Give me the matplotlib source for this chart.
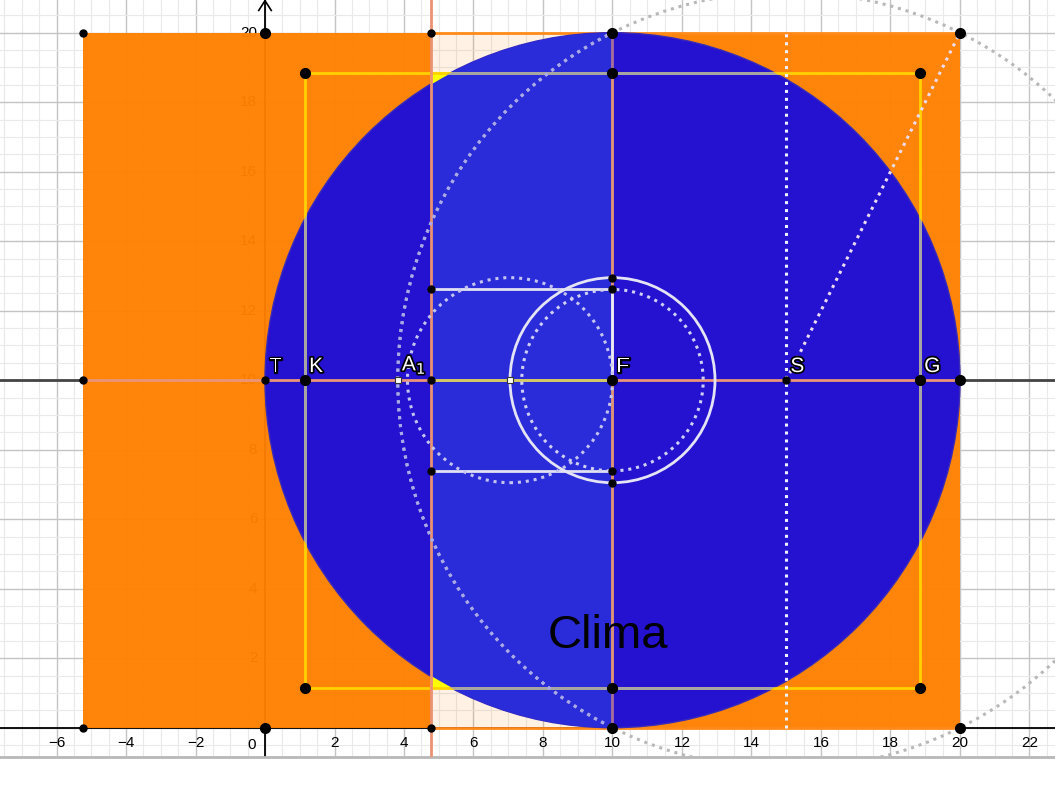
import numpy as np
import matplotlib.pyplot as plt
import matplotlib.patches as patches
import matplotlib.patheffects as pe

plt.rcParams['font.family'] = ['Liberation Sans', 'DejaVu Sans']

# construction values
side = 20            # outer square 0..20
cx, cy = 10, 10      # centre of the big circle
radius = 10
band_left = -5.24    # left edge of the orange band
strip_x = 4.78       # pale strip between strip_x and cx
margin = 1.15        # inset of the yellow square
rect_half = 2.62     # half height of the small white rectangle
ring_r = 2.95        # solid ring around F and dotted circle next to it
dot_cx = 7.05
inner_r = 2.61
s_x = 15
big_r = np.sqrt(125)
big_end = (20, 20)

label_names = ['T', 'K', 'A$_1$', 'F', 'S', 'G']
label_x = [0, 1.15, 3.82, 10, 15, 18.85]

big_pts_x = [0, 10, 20, 0, 10, 20, 1.15, 10, 18.85, 1.15, 10, 18.85, 1.15, 10, 18.85, 20]
big_pts_y = [0, 0, 0, 20, 20, 20, 18.85, 18.85, 18.85, 1.15, 1.15, 1.15, 10, 10, 10, 10]
small_pts_x = [-5.24, 4.78, -5.24, 4.78, -5.24, 0, 4.78, 15, 4.78, 10, 4.78, 10, 10, 10]
small_pts_y = [0, 0, 20, 20, 10, 10, 10, 10, 12.62, 12.62, 7.38, 7.38, 12.95, 7.05]
hollow_x = [3.82, 7.05]
hollow_y = [10, 10]

xtick_vals = [-6, -4, -2, 2, 4, 6, 8, 10, 12, 14, 16, 18, 20, 22]
ytick_vals = [2, 4, 6, 8, 10, 12, 14, 16, 18, 20]

fig = plt.figure(figsize=(10.55, 7.87), dpi=100)
ax = fig.add_axes([0, 30 / 787, 1, 757 / 787])
ax.set_xlim(-7.626, 22.734)
ax.set_ylim(-0.843, 20.94)

# grid
ax.set_xticks(np.arange(-6, 23, 2))
ax.set_yticks(np.arange(0, 21, 2))
ax.set_xticks(np.arange(-7.5, 23, 0.5), minor=True)
ax.set_yticks(np.arange(-0.5, 21, 0.5), minor=True)
ax.grid(which='major', color='#c4c4c4', lw=1)
ax.grid(which='minor', color='#e9e9e9', lw=0.8)
ax.set_axisbelow(True)
ax.tick_params(which='both', length=0, labelbottom=False, labelleft=False)
for s in ['top', 'left', 'right']:
    ax.spines[s].set_visible(False)
ax.spines['bottom'].set_color('#b8b8b8')
ax.spines['bottom'].set_linewidth(2)

# axes and the y = 10 line (under the fills)
ax.axhline(0, color='black', lw=1.3, zorder=1.5)
ax.axvline(0, color='black', lw=1.3, zorder=1.5)
ax.axhline(cy, color='#444444', lw=2, zorder=1.5)
top = ax.get_ylim()[1]
ax.plot([-0.18, 0, 0.18], [top - 0.3, top - 0.02, top - 0.3], color='black', lw=1.2, zorder=1.5)

for v in xtick_vals:
    ax.text(v, -0.45, str(v).replace('-', '\u2212'), ha='center', va='center', fontsize=11, zorder=1.5)
ax.text(-0.38, -0.5, '0', ha='center', va='center', fontsize=11, zorder=1.5)
for v in ytick_vals:
    ax.text(-0.22, v, str(v), ha='right', va='center', fontsize=11, zorder=1.8)

# orange band with the pale strip
ax.add_patch(patches.Rectangle((band_left, 0), strip_x - band_left, side,
                               fc='#ff8000', ec='none', alpha=0.96, zorder=2))
ax.add_patch(patches.Rectangle((cx, 0), side - cx, side,
                               fc='#ff8000', ec='none', alpha=0.96, zorder=2))
ax.add_patch(patches.Rectangle((strip_x, 0), cx - strip_x, side,
                               fc='#ff8000', ec='none', alpha=0.1, zorder=2))
ax.plot([strip_x, side], [0, 0], color='#ff8a1a', lw=2, zorder=2.6)
ax.plot([strip_x, side], [side, side], color='#ff8a1a', lw=2, zorder=2.6)

# blue circle, a little lighter inside the strip
disc = patches.Circle((cx, cy), radius, fc='#2412d0', ec='#3a2ab8', lw=1, zorder=3)
ax.add_patch(disc)
light = patches.Rectangle((strip_x, 0), cx - strip_x, side, fc='#2a2bd9', ec='none', zorder=3.05)
ax.add_patch(light)
light.set_clip_path(disc)
ax.plot([cx, cx], [0, side], color='#a87098', lw=2, zorder=3.15)

# little yellow corners between strip, yellow square and circle
for sgn in [1, -1]:
    y_edge = cy + sgn * (cy - margin)
    x_hit = cx - np.sqrt(radius ** 2 - (y_edge - cy) ** 2)
    a0 = np.arctan2(y_edge - cy, x_hit - cx)
    y_hit = cy + sgn * np.sqrt(radius ** 2 - (strip_x - cx) ** 2)
    a1 = np.arctan2(y_hit - cy, strip_x - cx)
    aa = np.linspace(a0, a1, 20)
    xs = np.concatenate([[strip_x], cx + radius * np.cos(aa)])
    ys = np.concatenate([[y_edge], cy + radius * np.sin(aa)])
    ax.fill(xs, ys, color='#ffff00', zorder=3.2)

# yellow square, grey where it runs inside the circle
ax.add_patch(patches.Rectangle((margin, margin), side - 2 * margin, side - 2 * margin,
                               fill=False, ec='#ffd200', lw=2, zorder=4))
grey_sq = patches.Rectangle((margin, margin), side - 2 * margin, side - 2 * margin,
                            fill=False, ec='#a4a4ac', lw=2, zorder=4.1)
ax.add_patch(grey_sq)
grey_sq.set_clip_path(disc)

# construction lines
ax.axvline(strip_x, color='#ea9272', lw=2, zorder=5)
ax.plot([cx, cx], [margin, side - margin], color='#dc9274', lw=2, zorder=5)
ax.plot([band_left, side], [cy, cy], color='#ea957a', lw=2, zorder=5)
ax.plot([strip_x, cx], [cy, cy], color='#d2cc66', lw=2, zorder=5.5)
ax.plot([strip_x, cx], [cy + rect_half, cy + rect_half], color='#e2e2f2', lw=2, zorder=5.5)
ax.plot([strip_x, cx], [cy - rect_half, cy - rect_half], color='#e2e2f2', lw=2, zorder=5.5)
ax.plot([cx, cx], [cy, cy + rect_half], color='#e8e8f8', lw=2, zorder=5.5)

dots = (0, (1, 1.6))
ax.add_patch(patches.Circle((cx, cy), ring_r, fill=False, ec='#e4e4f4', lw=2, zorder=6))
ax.add_patch(patches.Circle((dot_cx, cy), ring_r, fill=False, ec='#c4c4f0', lw=2.2, ls=dots, zorder=6))
ax.add_patch(patches.Circle((cx, cy), inner_r, fill=False, ec='#d0d0f4', lw=2.2, ls=dots, zorder=6))
ax.add_patch(patches.Circle((s_x, cy), big_r, fill=False, ec='#b8b8b8', lw=2.2, ls=dots, zorder=6))
inside = patches.Circle((s_x, cy), big_r, fill=False, ec='#a8a8ec', lw=2.2, ls=dots, zorder=6.1)
ax.add_patch(inside)
inside.set_clip_path(disc)
ax.plot([s_x, s_x], [0, side], color='#f0f0ff', lw=2.2, ls=dots, zorder=6)
ax.plot([s_x, big_end[0]], [cy, big_end[1]], color='#ecdcf0', lw=2.2, ls=dots, zorder=6)

# points
ax.plot(big_pts_x, big_pts_y, 'o', ms=7, color='black', zorder=8)
ax.plot(small_pts_x, small_pts_y, 'o', ms=5, color='black', zorder=8)
ax.plot(hollow_x, hollow_y, 's', ms=4, mfc='white', mec='#333333', mew=0.8, zorder=8)

outline = [pe.withStroke(linewidth=2.5, foreground='black')]
for name, x in zip(label_names, label_x):
    ax.text(x + 0.12, cy + 0.12, name, color='white', fontsize=15, ha='left', va='bottom',
            path_effects=outline, zorder=9)

ax.text(8.14, 2.30, 'Clima', fontsize=34, color='black', ha='left', va='baseline', zorder=9)

fig.savefig('out.png', dpi=100)
